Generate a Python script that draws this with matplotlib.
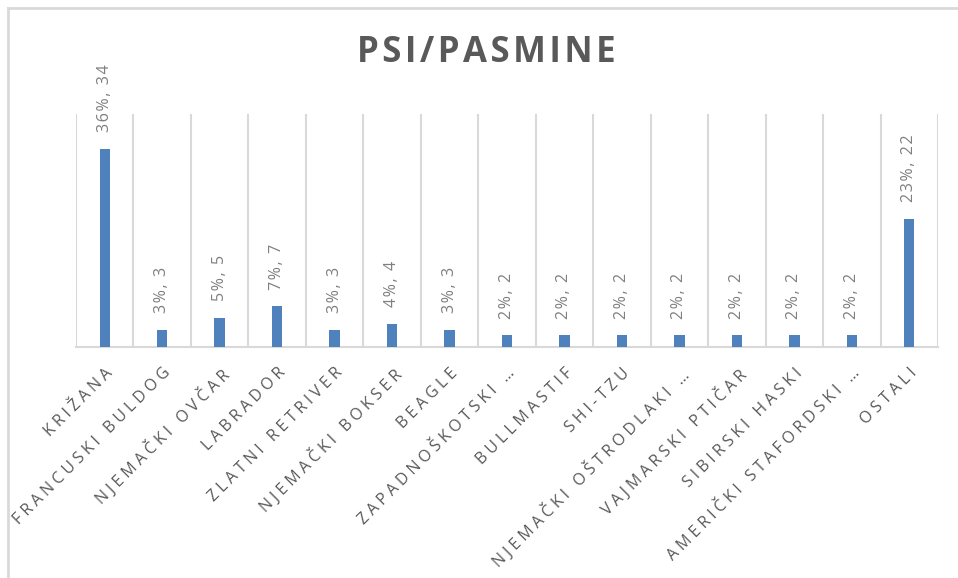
import matplotlib
matplotlib.use('Agg')
import matplotlib.pyplot as plt
from matplotlib.lines import Line2D

plt.rcParams['font.family'] = ['Open Sans', 'DejaVu Sans']

breeds = ['KRIŽANA', 'FRANCUSKI BULDOG', 'NJEMAČKI OVČAR', 'LABRADOR',
          'ZLATNI RETRIVER', 'NJEMAČKI BOKSER', 'BEAGLE', 'ZAPADNOŠKOTSKI …',
          'BULLMASTIF', 'SHI-TZU', 'NJEMAČKI OŠTRODLAKI …', 'VAJMARSKI PTIČAR',
          'SIBIRSKI HASKI', 'AMERIČKI STAFORDSKI …', 'OSTALI']
counts = [34, 3, 5, 7, 3, 4, 3, 2, 2, 2, 2, 2, 2, 2, 22]
percents = [36, 3, 5, 7, 3, 4, 3, 2, 2, 2, 2, 2, 2, 2, 23]

GRID = '#d9d9d9'
TEXT = '#595959'
BAR = '#4f81bd'


def spaced(s, sep='\u200a'):
    # fake letter spacing like the excel chart
    return sep.join(s)


fig = plt.figure(figsize=(9.58, 5.78), dpi=100)
ax = fig.add_axes([76 / 958, 1 - 347 / 578, 862 / 958, 233 / 578])

x = list(range(len(breeds)))
ax.bar(x, counts, width=0.18, color=BAR, zorder=3)

ax.set_xlim(-0.5, len(breeds) - 0.5)
ax.set_ylim(0, 40)
ax.vlines([i - 0.5 for i in range(len(breeds) + 1)], 0, 40, color=GRID, lw=1.5, zorder=1)

for s in ['top', 'right', 'left']:
    ax.spines[s].set_visible(False)
ax.spines['bottom'].set_color(GRID)
ax.spines['bottom'].set_linewidth(1.5)
ax.set_yticks([])

ax.set_xticks(x)
ax.set_xticklabels([spaced(b, '\u2005') for b in breeds], rotation=45, ha='right',
                   va='top', rotation_mode='anchor', fontsize=11.5, color=TEXT)
ax.tick_params(axis='x', length=0, pad=13)

for xi, c, p in zip(x, counts, percents):
    ax.annotate(spaced(f'{p}%, {c}'), (xi, c), xytext=(0, 12), textcoords='offset points',
                rotation=90, ha='center', va='bottom', fontsize=11.5, color='#7f7f7f')

fig.text(486 / 958, 1 - 62 / 578, spaced('PSI/PASMINE'), ha='center', va='baseline',
         fontsize=25, fontweight='bold', color=TEXT)

# chart frame edges
fig.add_artist(Line2D([8 / 958, 1], [1 - 8 / 578, 1 - 8 / 578], color=GRID, lw=2))
fig.add_artist(Line2D([8 / 958, 8 / 958], [0, 1 - 8 / 578], color=GRID, lw=2))

fig.savefig('out.png', dpi=100)
